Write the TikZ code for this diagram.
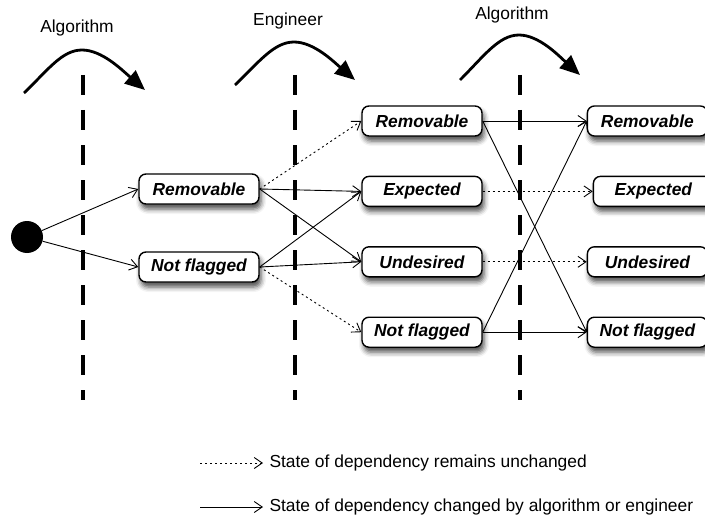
\documentclass[tikz,border=0pt]{standalone}
\usepackage{fontspec}
\setmainfont{Liberation Sans}
\usetikzlibrary{positioning, arrows.meta, shadows.blur}

\begin{document}
\begin{tikzpicture}
    [
        x=1pt, y=-1pt,
        font=\fontsize{17.4}{20}\selectfont,
        status/.style={rectangle, rounded corners=7, draw, line width=1.4pt,
                       fill=white, minimum width=120pt, minimum height=30pt,
                       inner sep=0pt,
                       font=\fontsize{17.4}{20}\selectfont\bfseries\itshape,
                       blur shadow={shadow xshift=2pt, shadow yshift=-5pt,
                                    shadow blur radius=5pt, shadow opacity=70}},
        move/.style={-{Straight Barb[length=8pt, width=11pt]}, line width=0.9pt},
        keep/.style={move, dash pattern=on 2pt off 3pt},
        divider/.style={line width=3.5pt, dash pattern=on 20pt off 15pt},
        phase/.style={line width=2.8pt, -{Triangle[length=20pt, width=17pt]}},
        entry/.style={circle, fill, minimum size=32pt, inner sep=0pt}
    ]
    \useasboundingbox (0,0) rectangle (705,519);

    % who acts in each step
    \draw[divider] (83,75) -- (83,400);
    \draw[divider] (295,75) -- (295,400);
    \draw[divider] (520,75) -- (520,400);
    \draw[phase] (24,93) .. controls (48,70) and (62,50) .. (82,50)
                         .. controls (102,50) and (122,70) .. (145,90);
    \draw[phase] (235,85) .. controls (259,62) and (274,42) .. (294,42)
                          .. controls (314,42) and (334,62) .. (355,80);
    \draw[phase] (460,80) .. controls (484,56) and (499,35) .. (519,35)
                          .. controls (539,35) and (559,56) .. (580,75);
    \node (alg1) at (77,28) {Algorithm};
    \node (eng) at (288,21) {Engineer};
    \node (alg2) at (512,15) {Algorithm};

    % states
    \node (entry) [entry] at (27,237) {};
    \node (r1) [status] at (199,189) {Removable};
    \node (n1) [status] at (199,267) {Not flagged};
    \node (r2) [status] at (422,121) {Removable};
    \node (e2) [status, below=39pt of r2] {Expected};
    \node (u2) [status, below=39pt of e2] {Undesired};
    \node (n2) [status, below=39pt of u2] {Not flagged};
    \node (r3) [status, right=104pt of r2] {Removable};
    \node (e3) [status, right=110pt of e2] {Expected};
    \node (u3) [status, right=104pt of u2] {Undesired};
    \node (n3) [status, right=104pt of n2] {Not flagged};

    \draw[move] (entry) -- (r1.west);
    \draw[move] (entry) -- (n1.west);
    \draw[keep] (r1.east) -- (r2.west);
    \draw[move] (r1.east) -- (e2.west);
    \draw[move] (r1.east) -- (u2.west);
    \draw[move] (n1.east) -- (e2.west);
    \draw[move] (n1.east) -- (u2.west);
    \draw[keep] (n1.east) -- (n2.west);
    \draw[move] (r2.east) -- (r3.west);
    \draw[move] (r2.east) -- (n3.west);
    \draw[keep] (e2.east) -- (e3.west);
    \draw[keep] (u2.east) -- (u3.west);
    \draw[move] (n2.east) -- (r3.west);
    \draw[move] (n2.east) -- (n3.west);

    % legend
    \coordinate (k1) at (200,463);
    \coordinate (k2) at (263,463);
    \coordinate (m1) at (200,507);
    \coordinate (m2) at (263,507);
    \draw[keep] (k1) -- (k2);
    \draw[move] (m1) -- (m2);
    \node (keeptext) [right=3pt of k2] {State of dependency remains unchanged};
    \node (movetext) [right=3pt of m2] {State of dependency changed by algorithm or engineer};
\end{tikzpicture}
\end{document}
